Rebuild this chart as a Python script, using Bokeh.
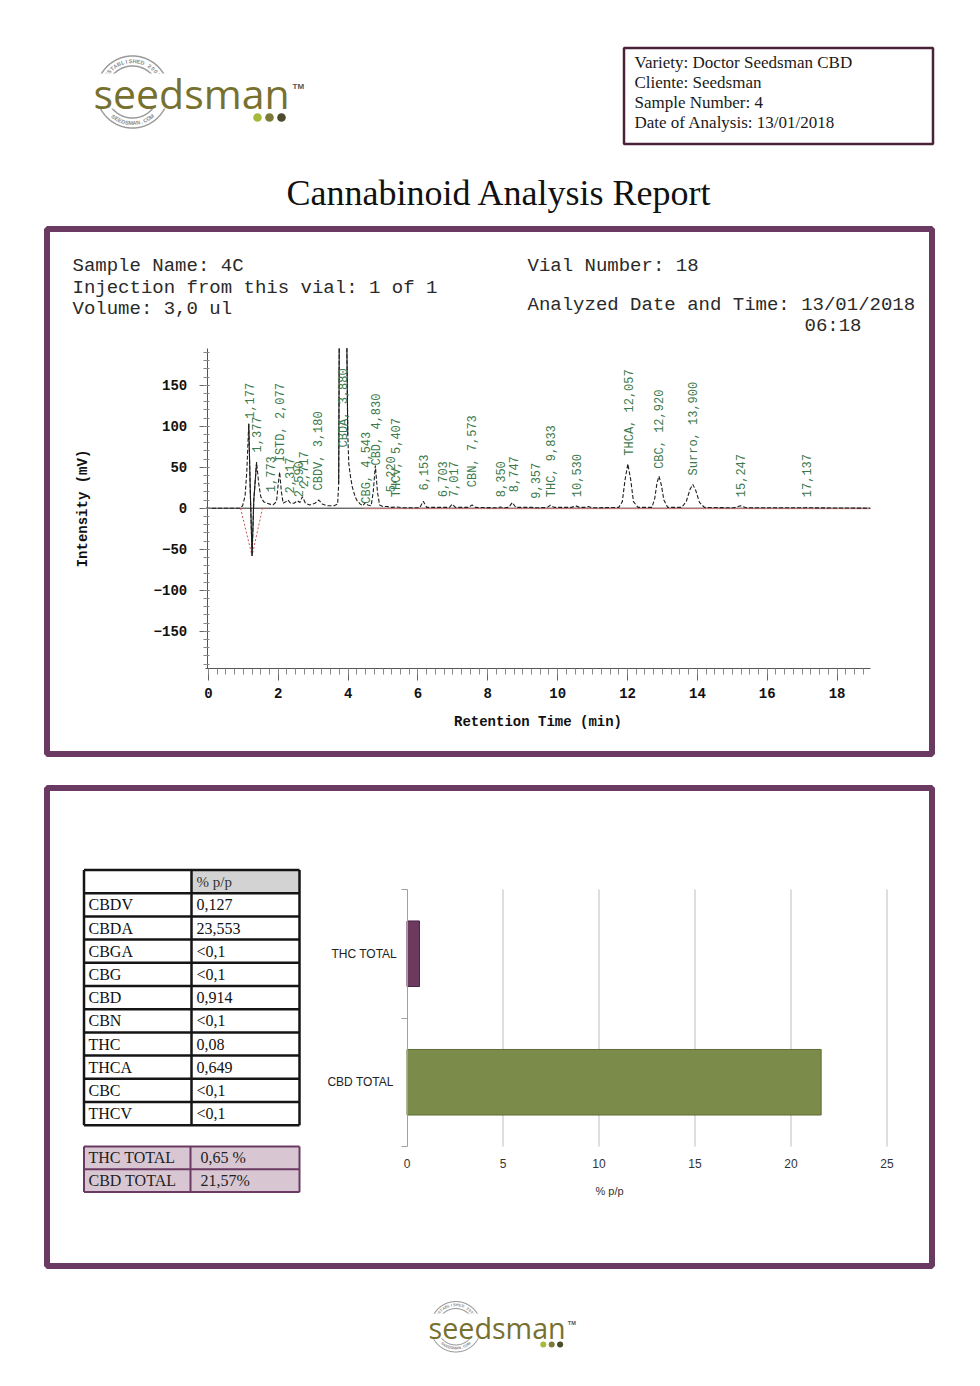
import numpy as np
from bokeh.plotting import figure
from bokeh.models import Range1d, LinearAxis, SingleIntervalTicker, FixedTicker
from bokeh.core.properties import value
from bokeh.embed import file_html
from bokeh.resources import INLINE

# ---------------- report data ----------------
info_lines = ["Variety: Doctor Seedsman CBD", "Cliente: Seedsman",
              "Sample Number: 4", "Date of Analysis: 13/01/2018"]
report_title = "Cannabinoid Analysis Report"

run_info_left = ["Sample Name: 4C", "Injection from this vial: 1 of 1", "Volume: 3,0 ul"]
run_info_right = ["Vial Number: 18", "Analyzed Date and Time: 13/01/2018", "06:18"]

# chromatogram signal (retention time in min, intensity in mV); NaN = off-scale gap
trace_rt = [-0.07, 0.90, 0.98, 1.05, 1.10, 1.155, 1.20, 1.25, 1.30, 1.38, 1.44, 1.50,
            1.58, 1.68, 1.76, 1.85, 1.95, 2.00, 2.04, 2.09, 2.14, 2.22, 2.28, 2.35,
            2.45, 2.55, 2.62, 2.69, 2.78, 2.90, 3.05, 3.16, 3.26, 3.40, 3.60, 3.70,
            3.73, 3.745, np.nan, 3.965, 3.99, 4.02, 4.07, 4.12, 4.20, 4.26, 4.35, 4.42,
            4.50, 4.56, 4.66, 4.72, 4.78, 4.84, 4.90, 5.00, 5.12, 5.25, 5.40, 5.55,
            6.05, 6.15, 6.25, 6.70, 6.90, 6.98, 7.07, 7.45, 7.55, 7.65, 8.30, 8.35,
            8.45, 8.60, 8.70, 8.80, 9.27, 9.40, 9.70, 9.79, 9.90, 10.40, 10.51, 10.62,
            10.80, 10.88, 10.98, 11.75, 11.85, 11.93, 12.01, 12.09, 12.17, 12.30, 12.70,
            12.78, 12.84, 12.90, 12.97, 13.04, 13.15, 13.55, 13.68, 13.79, 13.87, 13.95,
            14.06, 14.20, 15.05, 15.23, 15.40, 17.10, 17.14, 17.20, 18.95]
trace_mv = [0, 0, 3, 15, 45, 103, 20, -58, 10, 56, 30, 14,
            8, 6, 5, 4, 8, 30, 44, 20, 6, 8, 10, 6,
            6, 9, 7, 14, 6, 4, 6, 10, 5, 3, 3, 5,
            30, 195, np.nan, 195, 90, 54, 38, 26, 14, 9, 5, 3,
            7, 4, 3, 20, 52, 20, 4, 2, 2, 1, 1.5, 0.5,
            0.5, 8.5, 1, 1, 1, 5, 1, 1, 4, 1, 0.5, 1.5,
            0.5, 1, 7, 1, 1, 0.5, 1, 3.5, 1, 1, 3, 1,
            1, 2, 0.5, 1, 8, 35, 54, 35, 8, 1, 1,
            12, 30, 39, 28, 10, 1, 1, 8, 23, 29, 22,
            7, 1, 0.5, 3, 0.5, 0.5, 1, 0.5, 0]

# integration baseline of the injection disturbance
dip_rt = [0.92, 1.25, 1.55]
dip_mv = [0, -58, 0]

# identified peaks: name, retention time, height of the label foot (mV)
peak_names = ["", "", "", "ISTD", "", "", "", "CBDV", "CBDA", "CBG", "CBD", "", "THCV",
              "", "", "", "CBN", "", "", "", "THC", "", "THCA", "CBC", "Surro", "", ""]
peak_rt = [1.177, 1.377, 1.773, 2.077, 2.317, 2.590, 2.717, 3.180, 3.880, 4.543, 4.830,
           5.220, 5.407, 6.153, 6.703, 7.017, 7.573, 8.350, 8.747, 9.357, 9.833, 10.530,
           12.057, 12.920, 13.900, 15.247, 17.137]
peak_label_mv = [109, 68, 19.5, 56, 18, 13.4, 25.6, 21.6, 74, 5.4, 52, 19.5, 13.4,
                 21.6, 13.4, 13.4, 25.6, 13.4, 19.5, 11.5, 13.4, 13.4, 64, 48, 40, 13.4, 13.4]

# cannabinoid content table (% p/p)
compounds = ["CBDV", "CBDA", "CBGA", "CBG", "CBD", "CBN", "THC", "THCA", "CBC", "THCV"]
contents = ["0,127", "23,553", "<0,1", "<0,1", "0,914", "<0,1", "0,08", "0,649", "<0,1", "<0,1"]

total_names = ["THC TOTAL", "CBD TOTAL"]
total_values = [0.65, 21.57]
total_texts = ["0,65 %", "21,57%"]
total_axis_labels = ["THC TOTAL", "CBD  TOTAL"]
pct_ticks = [0, 5, 10, 15, 20, 25]

# ---------------- page canvas ----------------
PAGE_W, PAGE_H = 980, 1386
PURPLE = "#6b3a62"
GREEN_TXT = "#3c7a4c"

p = figure(width=PAGE_W, height=PAGE_H, x_range=Range1d(0, PAGE_W), y_range=Range1d(PAGE_H, 0),
           x_axis_type=None, y_axis_type=None, toolbar_location=None, output_backend="svg",
           min_border=0, outline_line_color=None, background_fill_color="white",
           border_fill_color="white")


def placed_range(v_a, px_a, v_b, px_b, px_start, px_end):
    """Data range whose values v_a, v_b land on page pixels px_a, px_b."""
    k = (px_b - px_a) / (v_b - v_a)
    return Range1d(v_a + (px_start - px_a) / k, v_a + (px_end - px_a) / k)


p.extra_x_ranges = {"rt": placed_range(0, 207.9, 18, 836.6, 0, PAGE_W),
                    "pct": placed_range(0, 406.5, 25, 886.5, 0, PAGE_W)}
p.extra_y_ranges = {"mv": placed_range(150, 384.7, -150, 630.7, PAGE_H, 0),
                    "bcat": placed_range(0, 1146, 2, 889, PAGE_H, 0)}

serif = value("Liberation Serif")
mono = value("Liberation Mono")
sans = value("Liberation Sans")


# ---------------- logos ----------------
def draw_logo(x0, y0, s):
    cx, cy = x0 + 39 * s, y0 - 12.5 * s
    th = np.linspace(0, 2 * np.pi, 241)
    for r in (36 * s, 26 * s):
        p.line(cx + r * np.cos(th), cy - r * np.sin(th), line_color="#9a9a9a", line_width=1.5 * s)
    # lettering around the seal
    rr = 31 * s
    top_txt = "ESTABLISHED 2002"
    ang = np.radians(np.linspace(146, 34, len(top_txt)))
    p.text(x=cx + rr * np.cos(ang), y=cy - rr * np.sin(ang), text=list(top_txt),
           angle=ang - np.pi / 2, text_font=sans, text_font_style="bold",
           text_font_size=f"{5.5 * s:.1f}px", text_color="#8a8a8a",
           text_align="center", text_baseline="middle")
    bot_txt = "SEEDSMAN.COM"
    ang = np.radians(np.linspace(232, 308, len(bot_txt)))
    p.text(x=cx + rr * np.cos(ang), y=cy - rr * np.sin(ang), text=list(bot_txt),
           angle=ang - 1.5 * np.pi, text_font=sans, text_font_style="bold",
           text_font_size=f"{5.5 * s:.1f}px", text_color="#8a8a8a",
           text_align="center", text_baseline="middle")
    p.quad(left=x0 - 4 * s, right=x0 + 204 * s, top=y0 - 31 * s, bottom=y0 + 4 * s,
           fill_color="white", line_color=None)
    p.text(x=[x0], y=[y0 - 12 * s], text=["seedsman"], text_font=value("Open Sans"),
           text_font_size=f"{41 * s:.1f}px", text_color="#77712f",
           text_align="left", text_baseline="middle")
    p.text(x=[x0 + 199 * s], y=[y0 - 18 * s], text=["TM"], text_font=sans,
           text_font_style="bold", text_font_size=f"{8 * s:.1f}px", text_color="#555555",
           text_align="left", text_baseline="middle")
    p.circle(x=[x0 + 164 * s, x0 + 176 * s, x0 + 188 * s], y=[y0 + 13 * s] * 3,
             radius=4.3 * s, fill_color=["#a6bb3c", "#7b7a3b", "#4e4a2c"], line_color=None)


draw_logo(93, 104, 1.0)
draw_logo(428, 1335, 0.70)

# ---------------- header ----------------
p.quad(left=623.5, right=932.5, top=47.5, bottom=143.5, fill_color=None,
       line_color="#4a2339", line_width=2.5)
p.text(x=[634] * 4, y=[61.5, 81.5, 101.5, 121.5], text=info_lines, text_font=serif,
       text_font_size="17px", text_color="#1a1a1a", text_align="left",
       text_baseline="middle")
p.text(x=[499], y=[192], text=[report_title], text_font=serif, text_font_size="36px",
       text_color="#111111", text_align="center", text_baseline="middle")

# ---------------- section frames ----------------
p.quad(left=[46.5, 46.5], right=[931.5, 931.5], top=[228.5, 787.5], bottom=[753.5, 1265.5],
       fill_color=None, line_color=PURPLE, line_width=6)

# run information
p.text(x=[72] * 3, y=[265, 287, 308], text=run_info_left, text_font=mono,
       text_font_size="19px", text_color="#2a2a2a", text_align="left", text_baseline="middle")
p.text(x=[527, 527, 804], y=[265, 304, 325], text=run_info_right, text_font=mono,
       text_font_size="19px", text_color="#2a2a2a", text_align="left", text_baseline="middle")

# ---------------- chromatogram ----------------
RT = dict(x_range_name="rt", y_range_name="mv")
p.line(x=[trace_rt[0], trace_rt[-1]], y=[0, 0], line_color="#2b2b2b", line_width=1, **RT)
p.line(x=[4.45, 18.95], y=[-0.6, -0.6], line_color="#e07a7a", line_width=1, line_alpha=0.8, **RT)
p.line(x=dip_rt, y=dip_mv, line_color="#d05050", line_width=1, line_dash="2 2", **RT)
p.line(x=trace_rt, y=trace_mv, line_color="#1e1e1e", line_width=1.1, line_dash="4 2", **RT)
p.line(x=trace_rt[5:10], y=trace_mv[5:10], line_color="#1e1e1e", line_width=1.1, **RT)
p.line(x=trace_rt[36:38], y=trace_mv[36:38], line_color="#1e1e1e", line_width=1.1, **RT)
p.line(x=trace_rt[39:41], y=trace_mv[39:41], line_color="#1e1e1e", line_width=1.1, **RT)

peak_texts = [(f"{n}, " if n else "") + f"{t:.3f}".replace(".", ",")
              for n, t in zip(peak_names, peak_rt)]
p.text(x=peak_rt, y=peak_label_mv, text=peak_texts, angle=np.pi / 2, text_font=mono,
       text_font_size="12px", text_color=GREEN_TXT, text_align="left",
       text_baseline="middle", **RT)

x_ax = LinearAxis(x_range_name="rt", y_range_name="mv", fixed_location=-195.4,
                  bounds=(-0.07, 18.95),
                  ticker=SingleIntervalTicker(interval=2, num_minor_ticks=8),
                  axis_label="Retention Time (min)")
y_ax = LinearAxis(x_range_name="rt", y_range_name="mv", fixed_location=-0.034,
                  bounds=(-195.4, 194.5),
                  ticker=SingleIntervalTicker(interval=50, num_minor_ticks=5),
                  axis_label="Intensity (mV)")
for ax in (x_ax, y_ax):
    ax.axis_line_color = "#555555"
    ax.major_tick_line_color = "#666666"
    ax.minor_tick_line_color = "#888888"
    ax.major_label_text_font = "Liberation Mono"
    ax.major_label_text_font_style = "bold"
    ax.major_label_text_font_size = "14px"
    ax.major_label_text_color = "#111111"
    ax.axis_label_text_font = "Liberation Mono"
    ax.axis_label_text_font_style = "bold"
    ax.axis_label_text_font_size = "14px"
    ax.axis_label_text_color = "#111111"
x_ax.major_tick_out, x_ax.major_tick_in = 12, 0
x_ax.minor_tick_out, x_ax.minor_tick_in = 6, 0
x_ax.major_label_standoff = 8
x_ax.axis_label_standoff = 12
y_ax.major_tick_out, y_ax.major_tick_in = 8, 2
y_ax.minor_tick_out, y_ax.minor_tick_in = 4, 2
y_ax.major_label_standoff = 12
y_ax.axis_label_standoff = 60
p.add_layout(x_ax, "below")
p.add_layout(y_ax, "left")

# ---------------- content table ----------------
tbl_left, tbl_mid, tbl_right = 83.5, 191, 299
row_h, tbl_top = 23.2, 869.5
n_rows = len(compounds) + 1
row_edges = [tbl_top + i * row_h for i in range(n_rows + 1)]
p.quad(left=tbl_mid, right=tbl_right, top=tbl_top, bottom=tbl_top + row_h,
       fill_color="#d3d3d3", line_color=None)
grid_xs = [[tbl_left, tbl_right] for _ in row_edges] + [[x, x] for x in (tbl_left, tbl_mid, tbl_right)]
grid_ys = [[y, y] for y in row_edges] + [[tbl_top, row_edges[-1]]] * 3
p.multi_line(grid_xs, grid_ys, line_color="#151515", line_width=2.5)
row_mid = [tbl_top + (i + 1.5) * row_h for i in range(len(compounds))]
p.text(x=[88] * len(compounds), y=row_mid, text=compounds, text_font=serif,
       text_font_size="16px", text_color="#111111", text_align="left", text_baseline="middle")
p.text(x=[196] * len(contents), y=row_mid, text=contents, text_font=serif,
       text_font_size="16px", text_color="#111111", text_align="left", text_baseline="middle")
p.text(x=[196], y=[tbl_top + row_h / 2], text=["% p/p"], text_font=serif,
       text_font_size="15px", text_color="#333333", text_align="left", text_baseline="middle")

# totals table
tot_top, tot_h = 1146, 22.8
tot_edges = [tot_top + i * tot_h for i in range(len(total_names) + 1)]
p.quad(left=tbl_left, right=tbl_right, top=tot_edges[0], bottom=tot_edges[-1],
       fill_color="#d8c7d2", line_color=None)
tx = [[tbl_left, tbl_right] for _ in tot_edges] + [[x, x] for x in (tbl_left, 190, tbl_right)]
ty = [[y, y] for y in tot_edges] + [[tot_edges[0], tot_edges[-1]]] * 3
p.multi_line(tx, ty, line_color=PURPLE, line_width=2)
tot_mid = [tot_top + (i + 0.5) * tot_h for i in range(len(total_names))]
p.text(x=[88] * 2, y=tot_mid, text=total_names, text_font=serif, text_font_size="16px",
       text_color="#222222", text_align="left", text_baseline="middle")
p.text(x=[200] * 2, y=tot_mid, text=total_texts, text_font=serif, text_font_size="16px",
       text_color="#222222", text_align="left", text_baseline="middle")

# ---------------- totals bar chart ----------------
PB = dict(x_range_name="pct", y_range_name="bcat")
p.segment(x0=pct_ticks[1:], y0=[0] * 5, x1=pct_ticks[1:], y1=[2] * 5,
          line_color="#bdbdbd", line_width=1, **PB)
p.hbar(y=[1.5, 0.5], left=0, right=total_values, height=0.51,
       fill_color=["#6b3a5e", "#7b8b4a"], line_color=["#4a2340", "#5f6d36"], line_width=1, **PB)

bx = LinearAxis(x_range_name="pct", y_range_name="bcat", fixed_location=0, bounds=(0, 25),
                ticker=FixedTicker(ticks=pct_ticks))
bx.axis_line_color = None
bx.major_tick_line_color = None
bx.minor_tick_line_color = None
bx.major_tick_out = 0
bx.major_label_standoff = 12
bx.major_label_text_font = "Liberation Sans"
bx.major_label_text_font_size = "12px"
bx.major_label_text_color = "#333333"
p.add_layout(bx, "below")
# quantity caption under the bar chart
p.text(x=[609], y=[1190], text=["% p/p"], text_font=sans, text_font_size="11px",
       text_color="#333333", text_align="center", text_baseline="middle")

by = LinearAxis(x_range_name="pct", y_range_name="bcat", fixed_location=0, bounds=(0, 2),
                ticker=FixedTicker(ticks=[1.5, 0.5], minor_ticks=[0, 1, 2]))
by.major_label_overrides = {1.5: total_axis_labels[0], 0.5: total_axis_labels[1]}
by.axis_line_color = "#a0a0a0"
by.major_tick_line_color = None
by.major_tick_out = 0
by.minor_tick_line_color = "#a0a0a0"
by.minor_tick_out, by.minor_tick_in = 6, 0
by.major_label_standoff = 4
by.major_label_text_font = "Liberation Sans"
by.major_label_text_font_size = "12px"
by.major_label_text_color = "#222222"
p.add_layout(by, "left")

open("out.html", "w").write(file_html(p, INLINE))
